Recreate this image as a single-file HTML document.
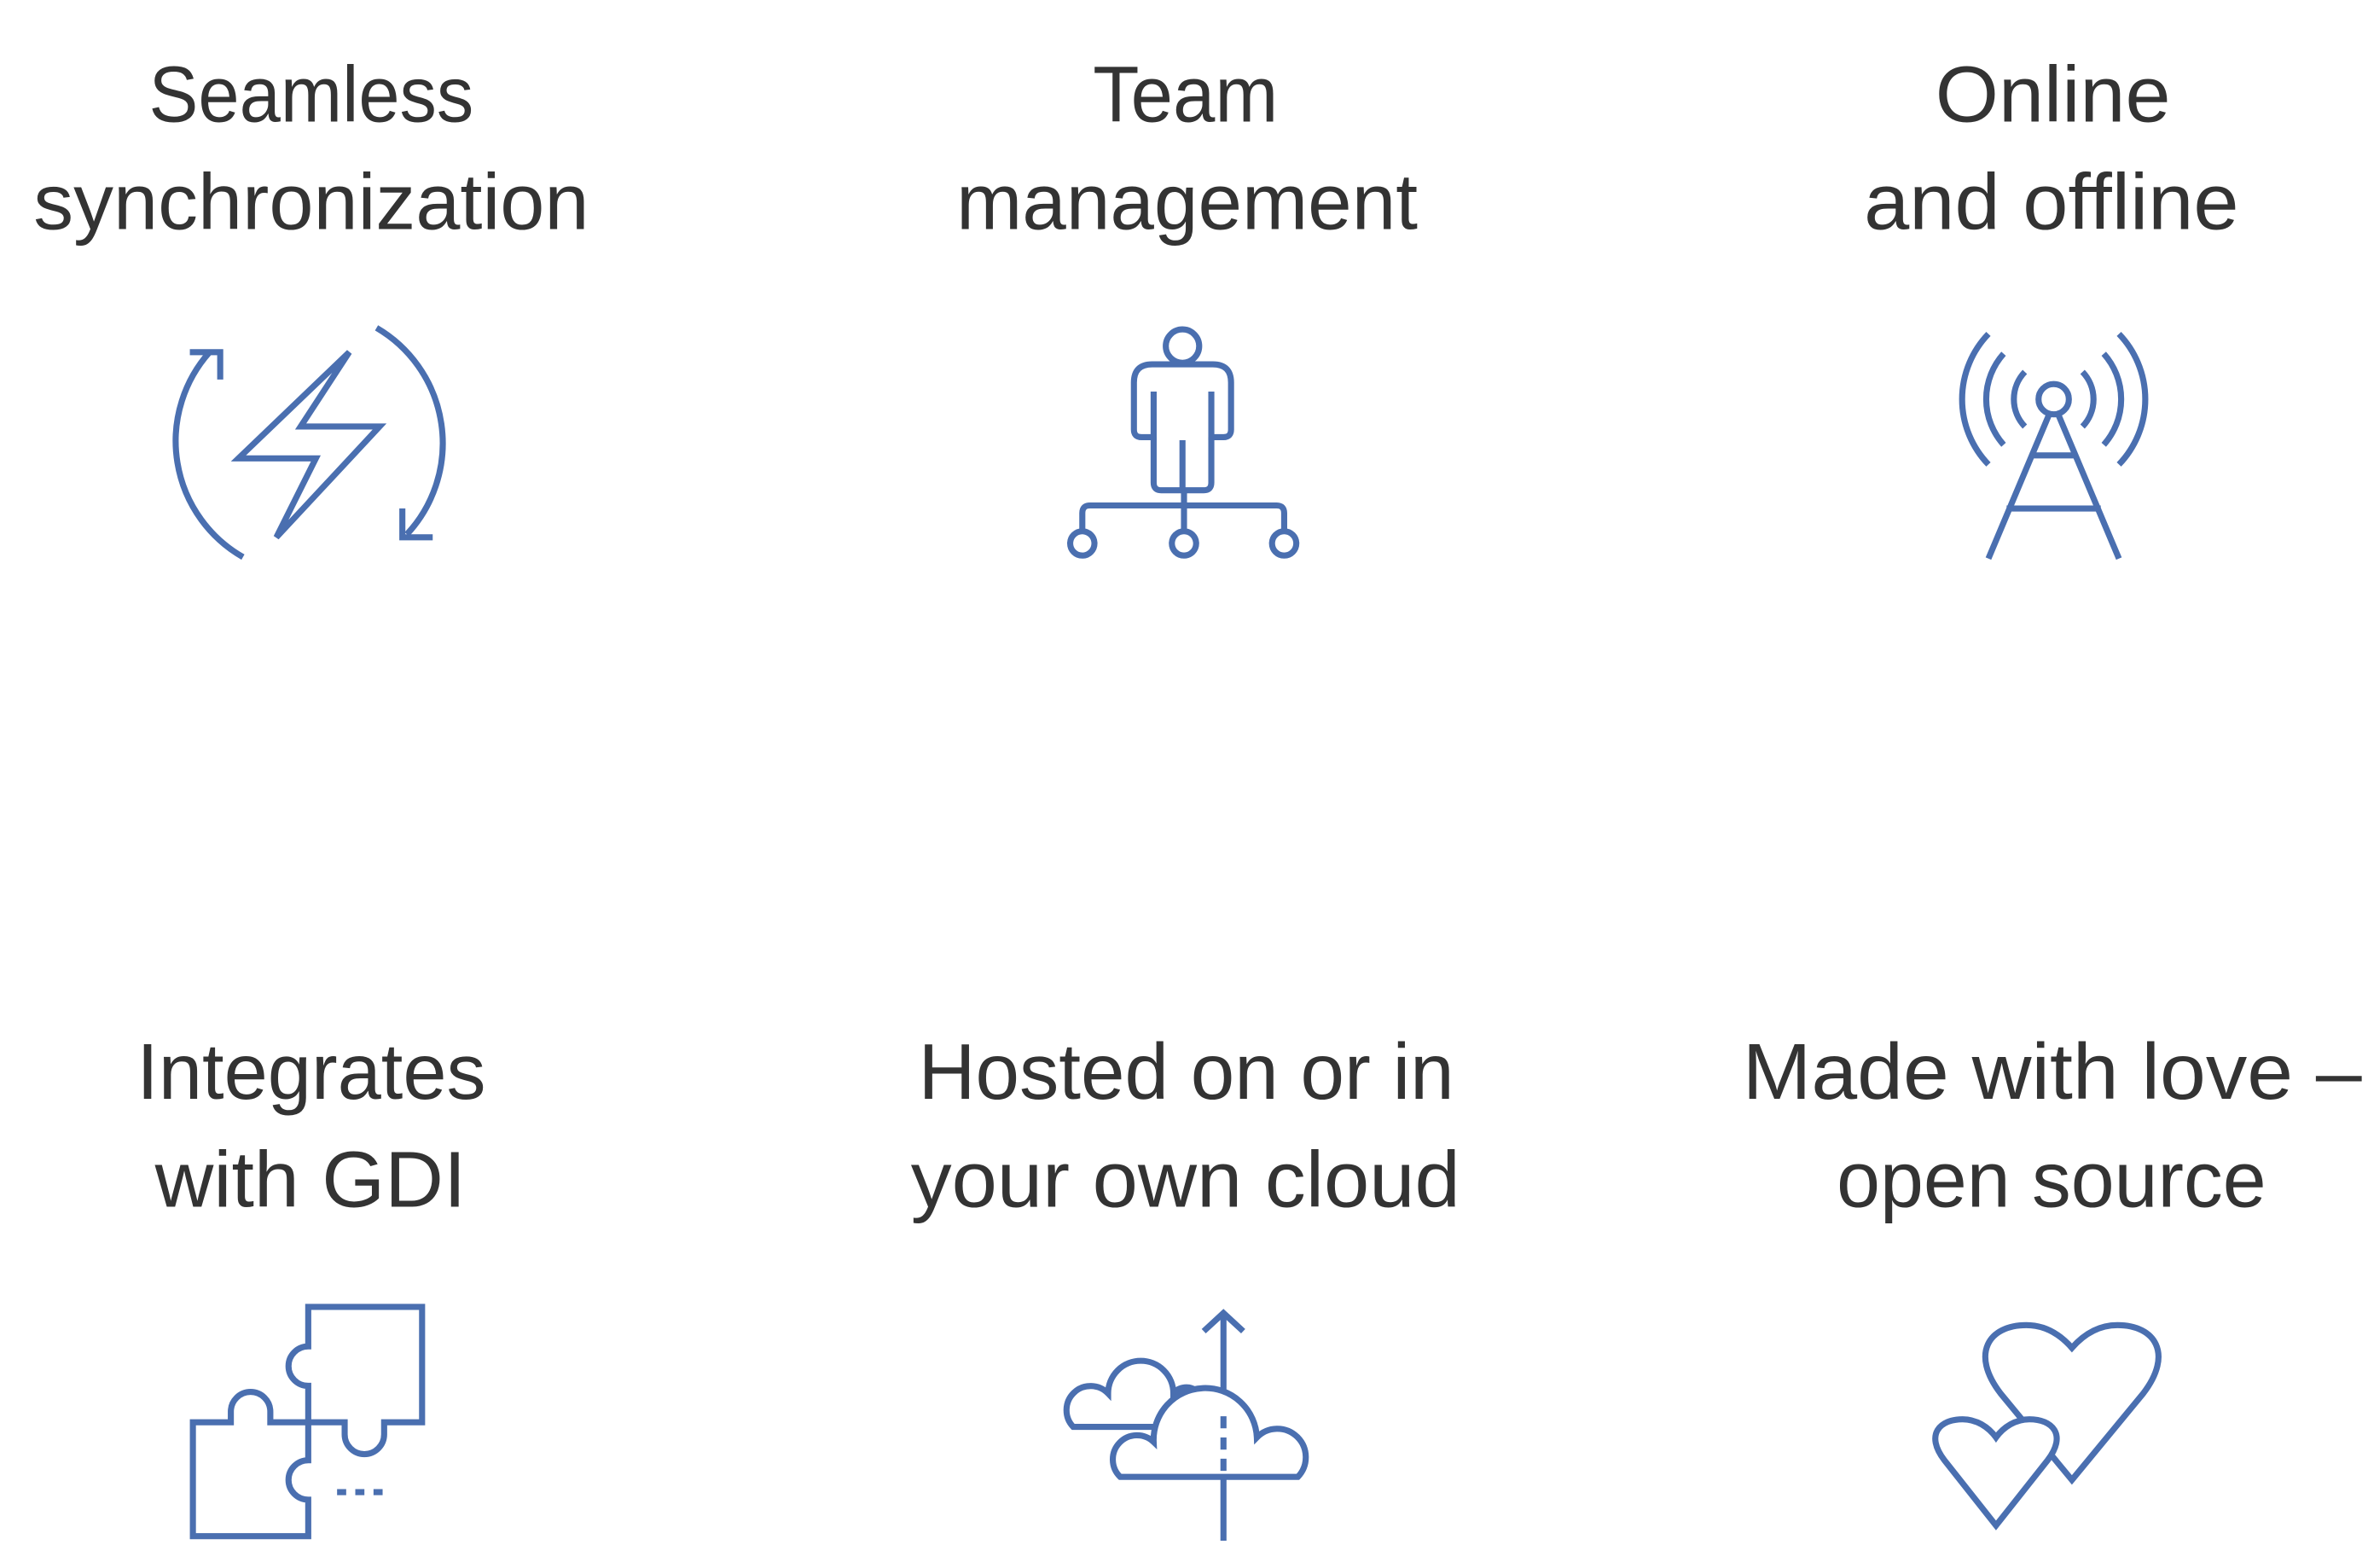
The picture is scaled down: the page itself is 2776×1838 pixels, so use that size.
<!DOCTYPE html>
<html><head><meta charset="utf-8"><style>
html,body{margin:0;padding:0;background:#fff;}
svg{display:block;}
text{font-family:"Liberation Sans",sans-serif;font-size:52px;fill:#333;text-anchor:start;}
</style></head><body>
<svg width="2776" height="1838" viewBox="0 0 1560 1033" xmlns="http://www.w3.org/2000/svg">
<g>
<text x="98" y="80" textLength="214" lengthAdjust="spacingAndGlyphs">Seamless</text>
<text x="22" y="151" textLength="366" lengthAdjust="spacingAndGlyphs">synchronization</text>
<text x="720" y="80" textLength="122" lengthAdjust="spacingAndGlyphs">Team</text>
<text x="630" y="151" textLength="304" lengthAdjust="spacingAndGlyphs">management</text>
<text x="1275" y="80" textLength="155" lengthAdjust="spacingAndGlyphs">Online</text>
<text x="1228" y="151" textLength="247" lengthAdjust="spacingAndGlyphs">and offline</text>
<text x="90" y="724" textLength="230" lengthAdjust="spacingAndGlyphs">Integrates</text>
<text x="102" y="795" textLength="205" lengthAdjust="spacingAndGlyphs">with GDI</text>
<text x="605" y="724" textLength="353" lengthAdjust="spacingAndGlyphs">Hosted on or in</text>
<text x="600" y="795" textLength="362" lengthAdjust="spacingAndGlyphs">your own cloud</text>
<text x="1148" y="724" textLength="408" lengthAdjust="spacingAndGlyphs">Made with love –</text>
<text x="1210" y="795" textLength="283" lengthAdjust="spacingAndGlyphs">open source</text>
</g>
<g fill="none" stroke="#4a6fb0" stroke-width="4" stroke-linejoin="miter">
<polygon points="230,232 157,302 208,302 182,354 250,281 198,281"/>
<path d="M160,367 A88,88 0 0 1 138,232"/>
<path d="M125,232 L145,232 L145,250"/>
<path d="M248,216 A88,88 0 0 1 268,352"/>
<path d="M265,335 L265,354 L285,354"/>
<circle cx="779" cy="228" r="11"/>
<path d="M760,258 L760,288 L752,288 Q747,288 747,283 L747,252 Q747,240 759,240 L799,240 Q811,240 811,252 L811,283 Q811,288 806,288 L798,288 L798,258"/>
<path d="M760,288 L760,318 Q760,323 765,323 L793,323 Q798,323 798,318 L798,288"/>
<path d="M779,290 L779,323"/>
<path d="M713,350 L713,338 Q713,333 718,333 L841,333 Q846,333 846,338 L846,350"/>
<path d="M780,323 L780,350"/>
<circle cx="713" cy="358" r="8"/><circle cx="780" cy="358" r="8"/><circle cx="846" cy="358" r="8"/>
<circle cx="1353" cy="263" r="10"/>
<path d="M1334,245 A26,26 0 0 0 1334,281"/><path d="M1372,245 A26,26 0 0 1 1372,281"/>
<path d="M1320,233 A45,45 0 0 0 1320,293"/><path d="M1386,233 A45,45 0 0 1 1386,293"/>
<path d="M1310,220 A62,62 0 0 0 1310,306"/><path d="M1396,220 A62,62 0 0 1 1396,306"/>
<path d="M1310,368 L1350,273 M1396,368 L1356,273"/>
<path d="M1338,300 L1368,300 M1322,335 L1384,335"/>
<path d="M203,861 L278,861 L278,937 L253,937 L253,945 A13,13 0 0 1 227,945 L227,937 L203,937 L203,913 A13,13 0 0 1 203,887 Z"/>
<path d="M127,937 L152,937 L152,930 A13,13 0 0 1 178,930 L178,937 L203,937 L203,962 A13,13 0 0 0 203,988 L203,1012 L127,1012 Z"/>
<path d="M222,983 L228,983 M234,983 L240,983 M246,983 L252,983"/>
<path d="M806,865 L806,930 M806,973 L806,1015"/>
<path d="M793,877 L806,865 L819,877"/>
<path d="M790,940 L707,940 A12,12 0 0 1 730,918 A21,21 0 0 1 773,918 A10,10 0 0 1 790,932"/>
<path d="M738,973 L855,973 A14,14 0 0 0 828,947 A26,26 0 0 0 760,950 A12,12 0 0 0 738,973 Z" fill="#fff"/>
<path d="M806,933 L806,973" stroke-dasharray="8,6"/>
<path d="M1365,975 L1412,918 C1432,892 1420,873 1395,873 C1382,873 1372,880 1365,888 C1358,880 1348,873 1335,873 C1310,873 1298,892 1318,918 Z" fill="#fff"/>
<path d="M1315,1005 L1281,962 C1268,945 1278,935 1293,935 C1302,935 1310,940 1315,947 C1320,940 1328,935 1337,935 C1352,935 1362,945 1349,962 Z" fill="#fff"/>
</g>
</svg>
</body></html>
